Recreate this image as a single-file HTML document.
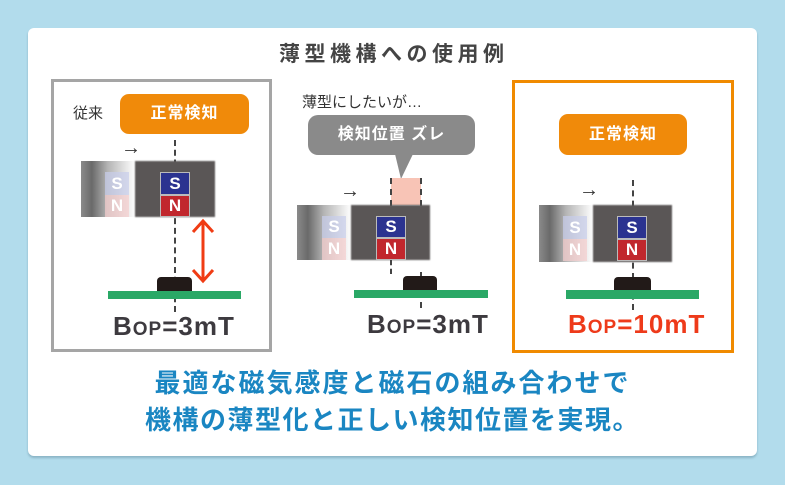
<!DOCTYPE html>
<html><head><meta charset="utf-8"><style>
*{margin:0;padding:0;box-sizing:border-box}
body{width:785px;height:485px;background:#b2dcec;position:relative;overflow:hidden;font-family:"Liberation Sans","Noto Sans CJK JP",sans-serif}
.a{position:absolute}
.card{left:28px;top:28px;width:729px;height:428px;background:#fff;border-radius:6px;box-shadow:0 2px 2px rgba(80,120,140,.4)}
.t{white-space:nowrap;font-weight:bold}
.lbl{background:#f08a0a;border-radius:9px;color:#fff;font-size:16px;font-weight:bold;text-align:center;letter-spacing:1px}
.blk{background:#5a5656;filter:blur(.8px)}
.ghost{background:linear-gradient(90deg,#8a8a8a 0%,#6a6a6a 20%,rgba(120,120,120,.55) 50%,rgba(255,255,255,0) 100%)}
.s{background:#2b3390;color:#fff;font-size:17px;font-weight:bold;text-align:center;border:1px solid #bbb}
.n{background:#c1272d;color:#fff;font-size:17px;font-weight:bold;text-align:center;border:1px solid #bbb}
.gs{background:rgba(200,205,235,.7);color:#fff;font-size:17px;font-weight:bold;text-align:center}
.gn{background:rgba(245,205,205,.7);color:#fff;font-size:17px;font-weight:bold;text-align:center}
.dash{border-left:2px dashed #444;width:0}
.chip{background:#221a18;border-radius:4px 4px 0 0}
.pcb{background:#2aa866}
.bop{font-size:26px;font-weight:bold;color:#3d3a3f;letter-spacing:1px}
.bop small{font-size:19px}
.arr{font-size:20px;color:#333;line-height:20px}
</style></head><body>
<div class="a card"></div>
<div class="a t" style="left:279px;top:38px;font-size:21px;letter-spacing:4.5px;color:#444">薄型機構への使用例</div>

<!-- panel 1 -->
<div class="a" style="left:51px;top:79px;width:221px;height:273px;border:3px solid #a5a5a5"></div>
<div class="a" style="left:73px;top:102px;font-size:15px;color:#333">従来</div>
<div class="a lbl" style="left:120px;top:94px;width:129px;height:40px;line-height:40px">正常検知</div>
<div class="a dash" style="left:174px;top:140px;height:172px"></div>
<div class="a arr" style="left:121px;top:138px">→</div>
<div class="a ghost" style="left:81px;top:161px;width:54px;height:56px"></div>
<div class="a gs" style="left:105px;top:172px;width:24px;height:23px;line-height:23px">S</div>
<div class="a gn" style="left:105px;top:195px;width:24px;height:22px;line-height:22px">N</div>
<div class="a blk" style="left:135px;top:161px;width:80px;height:56px"></div>
<div class="a s" style="left:160px;top:172px;width:30px;height:23px;line-height:21px">S</div>
<div class="a n" style="left:160px;top:195px;width:30px;height:22px;line-height:20px">N</div>
<svg class="a" style="left:190px;top:218px" width="26" height="66"><g stroke="#f03c14" stroke-width="3" fill="none"><line x1="13" y1="3" x2="13" y2="63"/><polyline points="3,14 13,3 23,14"/><polyline points="3,52 13,63 23,52"/></g></svg>
<div class="a chip" style="left:157px;top:277px;width:35px;height:14px"></div>
<div class="a pcb" style="left:108px;top:291px;width:133px;height:8px"></div>
<div class="a t bop" style="left:113px;top:311px">B<small>OP</small>=3mT</div>

<!-- panel 2 -->
<div class="a" style="left:302px;top:91px;font-size:15px;color:#333;white-space:nowrap">薄型にしたいが…</div>
<div class="a" style="left:308px;top:115px;width:167px;height:40px;background:#8a8a8a;border-radius:10px;color:#fff;font-size:16px;font-weight:bold;text-align:center;line-height:40px;letter-spacing:1px">検知位置 ズレ</div>
<svg class="a" style="left:395px;top:154px" width="20" height="26"><polygon points="0,0 18,0 6,25" fill="#8a8a8a"/></svg>
<div class="a" style="left:391px;top:178px;width:30px;height:27px;background:#f8c4b6"></div>
<div class="a dash" style="left:390px;top:178px;height:28px"></div>
<div class="a dash" style="left:420px;top:178px;height:28px"></div>
<div class="a arr" style="left:340px;top:181px">→</div>
<div class="a ghost" style="left:297px;top:205px;width:54px;height:55px"></div>
<div class="a gs" style="left:322px;top:216px;width:24px;height:22px;line-height:22px">S</div>
<div class="a gn" style="left:322px;top:238px;width:24px;height:22px;line-height:22px">N</div>
<div class="a blk" style="left:351px;top:205px;width:79px;height:55px"></div>
<div class="a s" style="left:376px;top:216px;width:30px;height:22px;line-height:20px">S</div>
<div class="a n" style="left:376px;top:238px;width:30px;height:22px;line-height:20px">N</div>
<div class="a dash" style="left:390px;top:260px;height:14px"></div>
<div class="a dash" style="left:420px;top:272px;height:36px"></div>
<div class="a chip" style="left:403px;top:276px;width:34px;height:14px"></div>
<div class="a pcb" style="left:354px;top:290px;width:134px;height:8px"></div>
<div class="a t bop" style="left:367px;top:309px">B<small>OP</small>=3mT</div>

<!-- panel 3 -->
<div class="a" style="left:512px;top:80px;width:222px;height:273px;border:3px solid #f08a00"></div>
<div class="a lbl" style="left:559px;top:114px;width:128px;height:41px;line-height:41px">正常検知</div>
<div class="a dash" style="left:632px;top:180px;height:130px"></div>
<div class="a arr" style="left:579px;top:180px">→</div>
<div class="a ghost" style="left:539px;top:205px;width:54px;height:57px"></div>
<div class="a gs" style="left:563px;top:216px;width:24px;height:23px;line-height:23px">S</div>
<div class="a gn" style="left:563px;top:239px;width:24px;height:22px;line-height:22px">N</div>
<div class="a blk" style="left:593px;top:205px;width:79px;height:57px"></div>
<div class="a s" style="left:617px;top:216px;width:30px;height:23px;line-height:21px">S</div>
<div class="a n" style="left:617px;top:239px;width:30px;height:22px;line-height:20px">N</div>
<div class="a chip" style="left:614px;top:277px;width:37px;height:14px"></div>
<div class="a pcb" style="left:566px;top:290px;width:133px;height:9px"></div>
<div class="a t bop" style="left:568px;top:309px;color:#ee3a1a">B<small>OP</small>=10mT</div>

<!-- bottom -->
<div class="a t" style="left:0;width:785px;text-align:center;top:363px;font-size:26px;letter-spacing:2px;color:#1a86c2">最適な磁気感度と磁石の組み合わせで</div>
<div class="a t" style="left:0;width:785px;text-align:center;top:400px;font-size:26px;letter-spacing:1.5px;color:#1a86c2">機構の薄型化と正しい検知位置を実現。</div>
</body></html>
